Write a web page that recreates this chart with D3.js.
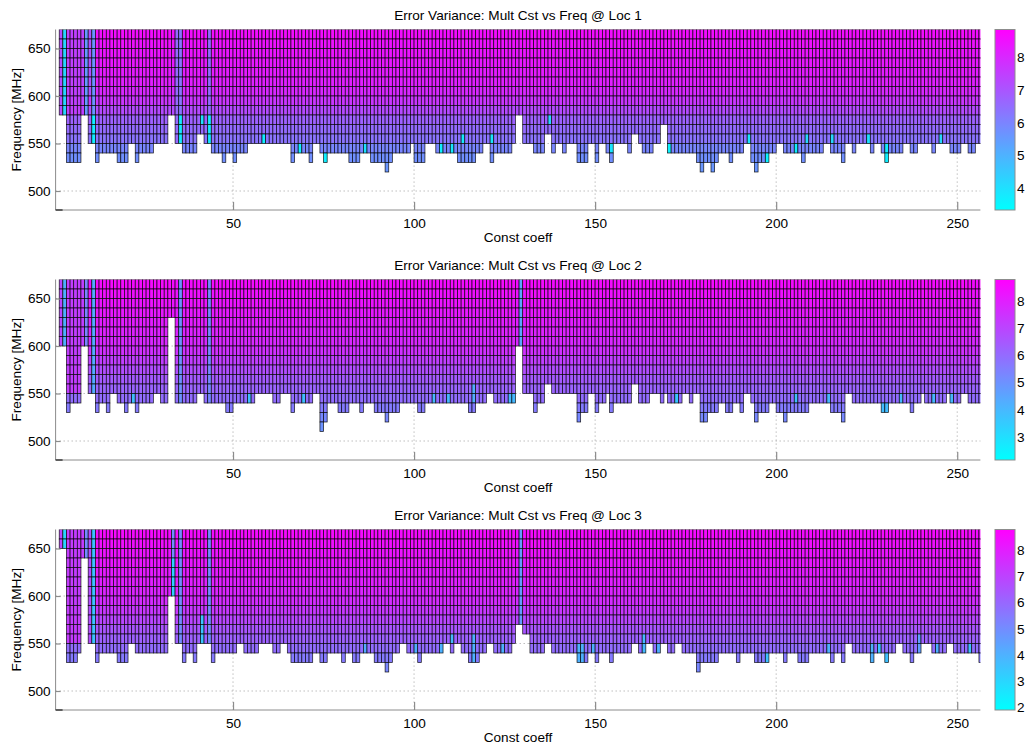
<!DOCTYPE html>
<html>
<head>
<meta charset="utf-8">
<script src="https://cdn.jsdelivr.net/npm/d3@7"></script>
<style>
  body { margin: 0; background: #fff; }
  text { font-family: "Liberation Sans", Arial, Helvetica, sans-serif; font-size: 13.6px; fill: #000; }
</style>
</head>
<body>
<svg id="chart" width="1026" height="744"></svg>
<script>
// ---- data ----
var xTicks = [50, 100, 150, 200, 250];
var yTicks = [500, 550, 600, 650];
var freqRows = [660, 650, 640, 630, 620, 610, 600, 590, 580, 570, 560, 550, 540, 530, 520, 510];
var firstCol = 2, lastCol = 256;

// lowest frequency row present in each column: [fromCol, toCol, lowFreq]
var lowRuns1 = [[2,3,580],[4,7,530],[8,9,580],[10,11,550],[12,12,530],[13,17,540],[18,20,530],[21,22,550],[23,23,530],
  [24,27,540],[28,31,550],[32,33,580],[34,35,550],[36,39,540],[40,41,560],[42,43,550],[44,46,540],[47,47,530],[48,49,540],
  [50,50,530],[51,53,540],[54,65,550],[66,66,530],[67,70,540],[71,71,530],[72,73,550],[74,74,540],[75,75,530],[76,81,540],
  [82,84,530],[85,87,540],[88,91,530],[92,92,520],[93,93,530],[94,98,540],[99,99,550],[100,102,530],[103,105,550],
  [106,111,540],[112,116,530],[117,118,540],[119,120,550],[121,121,530],[122,126,540],[127,127,550],[128,129,580],
  [130,132,550],[133,135,540],[136,137,560],[138,138,540],[139,140,550],[141,141,540],[142,144,550],[145,147,530],
  [148,149,550],[150,150,530],[151,152,550],[153,153,540],[154,154,530],[155,158,550],[159,159,540],[160,161,560],
  [162,162,550],[163,165,540],[166,167,550],[168,169,570],[170,177,540],[178,178,530],[179,179,520],[180,181,530],
  [182,182,520],[183,183,530],[184,186,540],[187,187,530],[188,190,540],[191,192,550],[193,193,530],[194,194,520],
  [195,197,530],[198,199,540],[200,201,550],[202,206,540],[207,207,530],[208,212,540],[213,214,550],[215,217,540],
  [218,218,530],[219,220,550],[221,221,540],[222,225,550],[226,226,540],[227,228,550],[229,229,540],[230,230,530],
  [231,234,540],[235,236,550],[237,238,540],[239,242,550],[243,243,540],[244,247,550],[248,250,540],[251,252,550],
  [253,254,540],[255,256,550]];

var lowRuns2 = [[2,3,600],[4,4,530],[5,7,540],[8,9,600],[10,11,550],[12,12,530],[13,14,540],[15,15,530],[16,17,550],
  [18,19,540],[20,20,530],[21,22,540],[23,23,530],[24,27,540],[28,29,550],[30,31,540],[32,33,630],[34,39,540],[40,41,550],
  [42,47,540],[48,49,530],[50,55,540],[56,60,550],[61,62,540],[63,65,550],[66,66,530],[67,71,540],[72,73,550],[74,74,510],
  [75,75,520],[76,78,540],[79,81,530],[82,84,540],[85,85,530],[86,88,540],[89,91,530],[92,92,520],[93,95,530],[96,100,540],
  [101,102,530],[103,114,540],[115,116,530],[117,119,540],[120,121,550],[122,127,540],[128,129,600],[130,132,550],
  [133,133,530],[134,135,540],[136,137,560],[138,144,550],[145,145,520],[146,147,530],[148,149,550],[150,150,530],
  [151,152,540],[153,153,550],[154,154,530],[155,159,540],[160,161,560],[162,164,540],[165,167,550],[168,168,540],
  [169,169,550],[170,173,540],[174,175,550],[176,176,540],[177,178,550],[179,180,520],[181,183,530],[184,185,540],
  [186,187,530],[188,189,540],[190,190,530],[191,192,550],[193,193,540],[194,194,520],[195,197,530],[198,199,540],
  [200,201,530],[202,202,520],[203,208,530],[209,214,540],[215,217,530],[218,218,520],[219,220,550],[221,228,540],
  [229,230,530],[231,236,540],[237,237,530],[238,239,540],[240,240,550],[241,246,540],[247,247,550],[248,250,540],
  [251,252,550],[253,256,540]];

var lowRuns3 = [[2,3,650],[4,6,530],[7,7,540],[8,9,640],[10,11,550],[12,12,530],[13,17,540],[18,20,530],[21,22,550],
  [23,31,540],[32,33,600],[34,35,550],[36,36,530],[37,38,540],[39,39,530],[40,43,550],[44,44,530],[45,50,540],[51,52,550],
  [53,56,540],[57,60,550],[61,62,540],[63,64,550],[65,65,540],[66,71,530],[72,73,540],[74,75,530],[76,79,540],[80,80,530],
  [81,82,540],[83,84,530],[85,88,540],[89,91,530],[92,92,520],[93,93,530],[94,95,540],[96,97,550],[98,100,540],
  [101,101,530],[102,107,540],[108,109,550],[110,110,540],[111,112,550],[113,114,540],[115,117,530],[118,119,540],
  [120,121,550],[122,126,540],[127,127,550],[128,129,570],[130,131,560],[132,135,540],[136,137,550],[138,144,540],
  [145,147,530],[148,149,540],[150,150,530],[151,153,540],[154,154,530],[155,159,540],[160,161,550],[162,163,540],
  [164,165,550],[166,167,540],[168,169,550],[170,171,540],[172,173,550],[174,177,540],[178,178,520],[179,183,530],
  [184,188,540],[189,189,530],[190,193,540],[194,197,530],[198,201,540],[202,202,530],[203,205,540],[206,208,530],
  [209,214,540],[215,215,530],[216,217,540],[218,218,530],[219,220,550],[221,225,540],[226,226,530],[227,229,540],
  [230,230,530],[231,232,540],[233,234,550],[235,236,540],[237,237,530],[238,239,540],[240,242,550],[243,246,540],
  [247,248,550],[249,255,540],[256,256,530]];

// typical error variance per frequency row (same order as freqRows)
var rowValues1 = [8.60, 8.50, 8.42, 8.36, 8.28, 8.18, 8.02, 7.70, 7.25, 6.75, 6.55, 6.35, 5.95, 5.75, 5.60, 5.50];
var rowValues2 = [8.55, 8.42, 8.30, 8.18, 8.05, 7.92, 7.78, 7.58, 7.18, 6.80, 6.45, 6.20, 5.95, 5.60, 5.25, 5.00];
var rowValues3 = [8.52, 8.40, 8.28, 8.20, 8.07, 7.94, 7.82, 7.62, 7.30, 6.90, 6.50, 6.18, 5.85, 5.50, 5.15, 5.00];

// cells that differ from the row value: [fromCol, toCol, freqLo, freqHi, value]
var patches1 = [[2,2,580,660,7.3],[3,3,580,660,4.2],[4,8,580,660,7.5],[9,9,580,660,5.5],[10,10,600,660,7.2],
  [11,11,550,570,3.7],[11,11,580,660,5.6],[34,34,550,660,6.6],[35,35,550,570,3.8],[35,35,580,660,6.3],[41,41,570,570,4.0],
  [43,43,550,570,3.8],[43,43,580,660,6.5],[58,58,550,550,3.7],[68,68,540,540,3.7],[75,75,530,530,3.7],[86,86,540,540,4.0],
  [107,107,540,540,3.7],[110,110,540,540,3.8],[113,113,550,550,3.8],[121,121,550,550,3.9],[137,137,570,570,4.2],
  [154,154,540,540,3.9],[170,170,540,540,3.6],[192,192,550,550,3.9],[197,197,530,530,3.6],[205,205,540,540,3.7],
  [208,208,550,550,4.2],[215,215,550,550,4.2],[225,225,550,550,4.0],[230,230,530,540,3.7],[245,245,550,550,4.2]];
var patches2 = [[2,2,600,660,7.0],[3,3,600,660,4.2],[4,8,550,660,7.2],[9,9,600,660,5.3],[11,11,550,660,4.3],
  [22,22,540,540,3.8],[35,35,540,660,5.0],[43,43,540,660,5.2],[54,54,540,540,3.8],[69,69,540,540,3.8],
  [105,105,540,540,4.0],[109,109,540,540,4.0],[116,116,540,550,4.3],[126,127,540,540,4.0],[129,129,600,660,4.5],
  [172,172,540,540,3.6],[205,205,540,540,3.8],[214,214,540,540,4.0],[229,230,530,530,3.9],[234,234,540,540,4.0],
  [243,243,540,540,4.0],[248,248,540,540,4.0]];
var patches3 = [[2,2,650,660,7.0],[3,3,650,660,3.0],[4,8,550,660,7.2],[9,9,640,660,5.0],[10,10,550,660,6.8],
  [11,11,550,660,3.5],[33,33,600,630,3.2],[33,33,640,660,5.0],[35,35,550,660,5.0],[41,41,550,570,3.5],
  [43,43,550,660,5.0],[86,86,540,540,4.2],[100,100,540,540,4.0],[107,107,540,540,4.0],[110,110,550,550,3.8],
  [116,116,530,550,4.0],[124,124,540,540,4.0],[129,129,570,660,4.6],[145,146,530,540,4.0],[149,149,540,540,4.0],
  [163,163,540,550,3.8],[167,167,540,540,4.0],[172,172,540,540,3.8],[197,197,530,530,3.6],[214,214,540,540,4.0],
  [226,226,530,540,4.0],[228,228,540,540,3.5],[230,230,530,530,3.6],[239,239,540,550,4.5],[244,244,540,540,4.0],
  [253,253,540,540,3.6]];

var titles = ["Error Variance: Mult Cst vs Freq @ Loc 1", "Error Variance: Mult Cst vs Freq @ Loc 2", "Error Variance: Mult Cst vs Freq @ Loc 3"];
var cbarRange1 = [3.33, 8.86], cbarRange2 = [2.15, 8.80], cbarRange3 = [1.90, 8.79];
var cbarTicks1 = [4, 5, 6, 7, 8], cbarTicks2 = [3, 4, 5, 6, 7, 8], cbarTicks3 = [2, 3, 4, 5, 6, 7, 8];

var panels = [
  { title: titles[0], lows: lowRuns1, rows: rowValues1, patches: patches1, range: cbarRange1, ticks: cbarTicks1 },
  { title: titles[1], lows: lowRuns2, rows: rowValues2, patches: patches2, range: cbarRange2, ticks: cbarTicks2 },
  { title: titles[2], lows: lowRuns3, rows: rowValues3, patches: patches3, range: cbarRange3, ticks: cbarTicks3 }
];

// ---- layout ----
var left = 55.6, right = 980.4, plotH = 180.5, tops = [29.5, 279.5, 529.5];
var cbX = 995, cbW = 20;
var cool = d3.interpolateRgb("#00ffff", "#ff00ff");

var svg = d3.select("#chart");
var x = d3.scaleLinear().domain([1, 256.4]).range([left, right]);

var defs = svg.append("defs");
var grad = defs.append("linearGradient").attr("id", "coolgrad")
  .attr("x1", 0).attr("y1", 1).attr("x2", 0).attr("y2", 0);
d3.range(0, 1.0001, 0.1).forEach(function (t) {
  grad.append("stop").attr("offset", t).attr("stop-color", cool(t));
});

panels.forEach(function (p, i) {
  var top = tops[i], bottom = top + plotH;
  var y = d3.scaleLinear().domain([480, 670]).range([bottom, top]);
  var color = d3.scaleSequential(cool).domain(p.range);

  defs.append("clipPath").attr("id", "clip" + i)
    .append("rect").attr("x", left).attr("y", top).attr("width", right - left).attr("height", plotH);

  var g = svg.append("g");

  // grid (under the cells)
  g.selectAll(".gx").data(xTicks).enter().append("line")
    .attr("x1", function (d) { return x(d); }).attr("x2", function (d) { return x(d); })
    .attr("y1", top).attr("y2", bottom)
    .attr("stroke", "#9a9a9a").attr("stroke-width", 0.8).attr("stroke-dasharray", "1.2,2.8");
  g.selectAll(".gy").data(yTicks).enter().append("line")
    .attr("x1", left).attr("x2", right)
    .attr("y1", function (d) { return y(d); }).attr("y2", function (d) { return y(d); })
    .attr("stroke", "#9a9a9a").attr("stroke-width", 0.8).attr("stroke-dasharray", "1.2,2.8");

  // expand the runs into a lookup col -> lowest row
  var low = {};
  p.lows.forEach(function (r) { for (var c = r[0]; c <= r[1]; c++) low[c] = r[2]; });

  var cells = [];
  for (var c = firstCol; c <= lastCol; c++) {
    var lo = low[c] !== undefined ? low[c] : 540;
    freqRows.forEach(function (f, k) {
      if (f < lo) return;
      var v = p.rows[k];
      p.patches.forEach(function (q) {
        if (c >= q[0] && c <= q[1] && f >= q[2] && f <= q[3]) v = q[4];
      });
      cells.push({ col: c, freq: f, value: v });
    });
  }

  g.append("g").attr("clip-path", "url(#clip" + i + ")")
    .selectAll("rect").data(cells).enter().append("rect")
    .attr("x", function (d) { return x(d.col); })
    .attr("width", function (d) { return x(d.col + 1) - x(d.col); })
    .attr("y", function (d) { return y(d.freq + 10); })
    .attr("height", function (d) { return y(d.freq) - y(d.freq + 10); })
    .attr("fill", function (d) { return color(d.value); })
    .attr("stroke", "#000").attr("stroke-opacity", 0.85).attr("stroke-width", 0.75);

  // axes
  var xAxis = d3.axisBottom(x).tickValues(xTicks).tickSize(-8).tickPadding(8).tickFormat(d3.format("d"));
  var xa = g.append("g").attr("transform", "translate(0," + bottom + ")").call(xAxis);
  var yAxis = d3.axisLeft(y).tickValues(yTicks).tickSize(-5).tickPadding(5).tickFormat(d3.format("d"));
  var ya = g.append("g").attr("transform", "translate(" + left + ",0)").call(yAxis);
  [xa, ya].forEach(function (a) {
    a.select(".domain").remove();
    a.selectAll(".tick line").attr("stroke", "#8c8c8c").attr("stroke-width", 1.2);
    a.selectAll(".tick text").style("font-size", "13.6px").attr("fill", "#000");
  });
  g.append("line").attr("x1", left).attr("x2", right).attr("y1", bottom).attr("y2", bottom)
    .attr("stroke", "#8c8c8c").attr("stroke-width", 1);
  g.append("line").attr("x1", left).attr("x2", left).attr("y1", top).attr("y2", bottom)
    .attr("stroke", "#8c8c8c").attr("stroke-width", 1);
  g.append("line").attr("x1", left).attr("x2", left + 7).attr("y1", bottom).attr("y2", bottom)
    .attr("stroke", "#333").attr("stroke-width", 1.4);

  // labels
  g.append("text").attr("x", (left + right) / 2).attr("y", top - 9.5)
    .attr("text-anchor", "middle").text(p.title);
  g.append("text").attr("x", (left + right) / 2).attr("y", bottom + 32)
    .attr("text-anchor", "middle").text("Const coeff");
  g.append("text").attr("transform", "translate(21," + (top + plotH / 2) + ") rotate(-90)")
    .attr("text-anchor", "middle").text("Frequency [MHz]");

  // colorbar
  var cb = d3.scaleLinear().domain(p.range).range([bottom, top]);
  g.append("rect").attr("x", cbX).attr("y", top).attr("width", cbW).attr("height", plotH)
    .attr("fill", "url(#coolgrad)").attr("stroke", "#8c8c8c").attr("stroke-width", 1);
  g.selectAll(".cbt").data(p.ticks).enter().append("text")
    .attr("x", cbX + cbW + 2).attr("y", function (d) { return cb(d); })
    .attr("dy", "0.35em").text(function (d) { return d; });
});
</script>
</body>
</html>
